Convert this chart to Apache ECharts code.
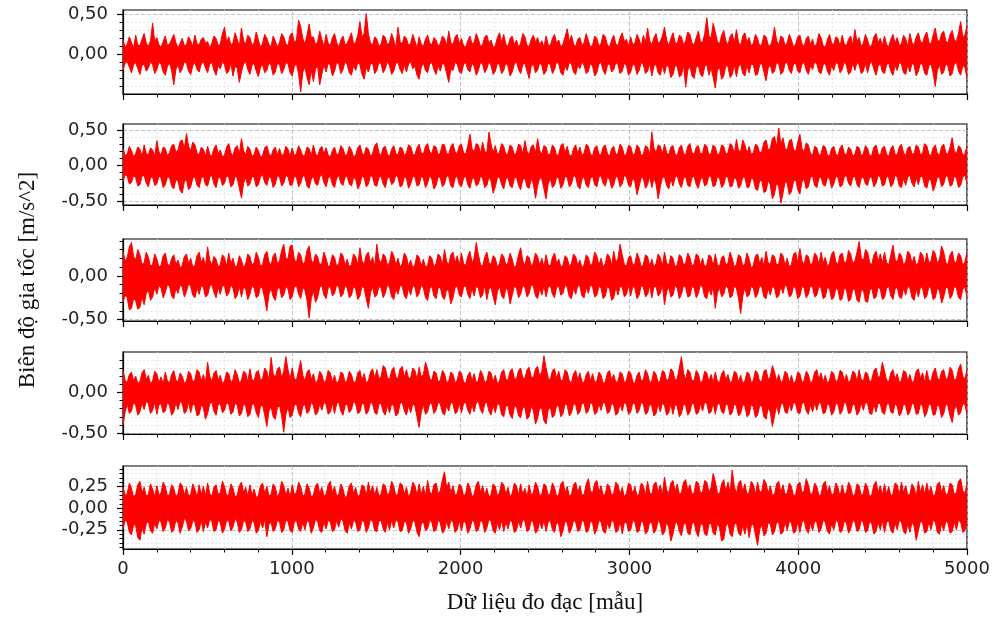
<!DOCTYPE html>
<html>
<head>
<meta charset="utf-8">
<script src="https://cdn.jsdelivr.net/npm/echarts@6.0.0/dist/echarts.min.js"></script>
<style>
  html, body { margin: 0; padding: 0; background: #ffffff; }
  #chart { width: 994px; height: 617px; }
</style>
</head>
<body>
<div id="chart"></div>
<script>
// Five acceleration records, 5000 samples each.
// Each record is kept as its upper (Hi) and lower (Lo) envelope,
// 400 points per edge spread over the 5000 samples, in units of 0.01 m/s^2.
const SAMPLES = 5000;
const UNIT = 0.01;
const xTicks = [0, 1000, 2000, 3000, 4000, 5000];

const s1Hi = [
  18, 9, 13, 22, 15, 8, 24, 12, 11, 19, 26, 14, 10, 17, 39, 16, 21, 12, 9, 16,
  23, 11, 13, 19, 25, 15, 8, 14, 20, 11, 12, 22, 17, 10, 24, 13, 12, 19, 21, 14,
  16, 8, 14, 23, 20, 11, 13, 26, 34, 15, 22, 12, 14, 27, 19, 10, 33, 17, 13, 24,
  21, 11, 15, 28, 18, 9, 14, 25, 20, 12, 10, 23, 17, 9, 15, 26, 22, 13, 11, 24,
  27, 15, 18, 43, 35, 20, 13, 24, 38, 21, 22, 12, 16, 29, 19, 10, 25, 14, 11, 21,
  26, 15, 9, 18, 23, 12, 14, 20, 27, 13, 15, 24, 41, 22, 26, 51, 26, 14, 12, 22,
  19, 10, 13, 24, 21, 12, 15, 26, 18, 9, 34, 16, 13, 23, 20, 11, 14, 25, 17, 8,
  22, 13, 10, 19, 24, 14, 12, 21, 18, 10, 14, 23, 20, 11, 29, 15, 12, 22, 25, 13,
  20, 11, 9, 17, 23, 13, 15, 26, 19, 10, 12, 22, 24, 14, 18, 9, 11, 21, 27, 15,
  25, 13, 10, 20, 23, 12, 18, 9, 14, 26, 22, 11, 10, 19, 24, 15, 21, 12, 17, 9,
  23, 12, 11, 20, 25, 14, 18, 9, 13, 22, 32, 16, 24, 13, 10, 19, 21, 11, 15, 26,
  17, 9, 12, 23, 20, 10, 14, 25, 22, 12, 9, 18, 24, 13, 11, 21, 27, 16, 19, 10,
  22, 12, 14, 25, 19, 10, 24, 15, 33, 17, 12, 21, 26, 14, 16, 23, 34, 18, 11, 20,
  27, 15, 13, 24, 22, 12, 17, 28, 25, 14, 12, 21, 29, 16, 15, 26, 46, 24, 20, 39,
  28, 16, 13, 24, 30, 17, 12, 22, 26, 14, 31, 15, 11, 23, 27, 15, 21, 11, 14, 25,
  20, 10, 13, 24, 22, 12, 10, 19, 34, 17, 12, 23, 21, 11, 15, 25, 18, 9, 13, 22,
  24, 13, 10, 20, 23, 12, 19, 9, 14, 26, 21, 11, 9, 18, 25, 14, 12, 22, 20, 10,
  24, 13, 11, 19, 23, 12, 31, 16, 21, 10, 14, 25, 18, 9, 12, 22, 26, 15, 20, 11,
  23, 12, 10, 19, 25, 14, 21, 11, 13, 24, 20, 10, 26, 15, 12, 22, 27, 16, 14, 23,
  28, 15, 13, 24, 33, 18, 16, 26, 29, 17, 14, 25, 30, 18, 16, 27, 41, 22, 24, 36
];
const s1Lo = [
  -20, -11, -9, -16, -23, -13, -10, -18, -25, -14, -12, -21, -17, -9, -13, -24, -19, -10, -12, -22,
  -26, -15, -11, -20, -38, -19, -13, -23, -18, -9, -11, -21, -25, -14, -10, -19, -22, -12, -9, -17,
  -23, -12, -10, -20, -26, -14, -18, -9, -13, -24, -21, -11, -27, -15, -17, -35, -22, -12, -9, -19,
  -25, -14, -11, -21, -28, -16, -13, -23, -20, -10, -14, -26, -22, -11, -13, -24, -19, -10, -12, -23,
  -27, -15, -12, -24, -47, -22, -16, -29, -38, -20, -34, -18, -15, -38, -25, -13, -22, -11, -14, -27,
  -21, -10, -12, -24, -19, -9, -13, -23, -26, -14, -20, -10, -13, -25, -31, -16, -22, -12, -11, -24,
  -20, -10, -12, -23, -18, -9, -14, -25, -21, -11, -10, -19, -24, -13, -22, -12, -9, -18, -15, -26,
  -31, -16, -11, -20, -23, -12, -10, -19, -25, -14, -21, -11, -13, -24, -35, -18, -20, -10, -12, -22,
  -24, -13, -10, -19, -22, -11, -15, -26, -20, -10, -12, -23, -18, -9, -14, -25, -21, -11, -13, -24,
  -20, -10, -15, -27, -22, -12, -9, -19, -24, -13, -11, -21, -30, -15, -12, -23, -20, -10, -14, -25,
  -21, -11, -13, -24, -19, -9, -12, -23, -26, -14, -20, -10, -12, -22, -25, -13, -18, -9, -14, -24,
  -21, -11, -15, -27, -23, -12, -10, -20, -25, -14, -11, -22, -19, -10, -13, -24, -21, -11, -14, -26,
  -22, -12, -14, -25, -20, -10, -13, -24, -21, -11, -27, -15, -12, -23, -26, -14, -24, -13, -16, -29,
  -25, -14, -15, -28, -26, -13, -41, -20, -15, -27, -30, -16, -14, -25, -28, -15, -13, -26, -17, -29,
  -42, -20, -16, -31, -27, -14, -15, -29, -25, -13, -28, -15, -12, -24, -27, -14, -23, -12, -13, -26,
  -25, -13, -11, -22, -33, -17, -13, -24, -21, -10, -12, -25, -22, -11, -10, -20, -24, -12, -11, -21,
  -23, -12, -10, -20, -25, -14, -19, -9, -12, -22, -24, -13, -11, -21, -26, -14, -20, -10, -12, -23,
  -19, -9, -14, -25, -22, -11, -20, -10, -13, -24, -21, -11, -23, -12, -9, -19, -26, -15, -11, -22,
  -24, -13, -11, -21, -26, -14, -20, -10, -12, -23, -25, -13, -22, -11, -14, -27, -21, -11, -13, -24,
  -26, -14, -12, -23, -40, -20, -13, -25, -22, -11, -15, -27, -24, -12, -10, -21, -26, -14, -16, -30
];

const s2Hi = [
  24, 14, 16, 27, 21, 12, 17, 26, 23, 13, 29, 17, 15, 25, 22, 13, 35, 19, 15, 26,
  24, 14, 18, 28, 30, 19, 22, 34, 36, 24, 45, 27, 21, 33, 29, 18, 15, 26, 23, 13,
  27, 16, 13, 24, 29, 17, 22, 12, 15, 26, 31, 18, 14, 25, 28, 16, 38, 21, 15, 27,
  23, 13, 16, 26, 21, 12, 14, 25, 28, 17, 13, 22, 26, 15, 24, 14, 16, 27, 23, 13,
  25, 14, 17, 28, 22, 13, 15, 26, 24, 14, 29, 17, 13, 23, 27, 16, 25, 15, 12, 21,
  26, 15, 17, 28, 24, 14, 16, 27, 22, 12, 15, 25, 29, 18, 14, 26, 23, 13, 17, 28,
  32, 18, 14, 25, 27, 16, 13, 23, 28, 17, 15, 26, 24, 14, 18, 29, 27, 16, 15, 25,
  30, 18, 16, 27, 31, 19, 17, 28, 26, 15, 18, 30, 29, 17, 16, 27, 31, 19, 17, 28,
  30, 18, 16, 28, 44, 24, 19, 31, 29, 17, 33, 20, 18, 47, 30, 18, 28, 16, 19, 31,
  27, 15, 17, 29, 26, 15, 18, 30, 28, 16, 35, 20, 15, 27, 29, 17, 38, 21, 16, 28,
  26, 15, 17, 29, 25, 14, 16, 28, 31, 18, 27, 15, 13, 24, 29, 17, 26, 14, 18, 30,
  27, 16, 14, 25, 28, 16, 15, 26, 29, 17, 13, 24, 27, 15, 18, 30, 26, 14, 16, 28,
  27, 15, 17, 29, 25, 14, 16, 28, 26, 15, 47, 25, 18, 29, 27, 16, 30, 18, 15, 26,
  28, 16, 14, 25, 29, 17, 15, 27, 31, 18, 16, 26, 28, 16, 18, 30, 27, 15, 17, 29,
  26, 15, 17, 29, 27, 16, 18, 31, 28, 16, 37, 21, 20, 36, 29, 17, 27, 16, 18, 30,
  28, 17, 20, 33, 36, 22, 24, 38, 41, 26, 53, 30, 39, 24, 22, 35, 37, 23, 20, 33,
  44, 24, 19, 32, 29, 17, 15, 27, 25, 14, 17, 28, 26, 15, 13, 24, 27, 16, 14, 25,
  29, 17, 15, 26, 23, 13, 16, 27, 25, 14, 17, 28, 24, 13, 15, 26, 29, 17, 14, 25,
  27, 16, 13, 24, 28, 16, 15, 26, 30, 18, 14, 25, 27, 16, 17, 29, 26, 15, 18, 31,
  28, 16, 14, 25, 29, 17, 15, 27, 30, 18, 16, 26, 39, 21, 16, 28, 25, 14, 17, 27
];
const s2Lo = [
  -22, -13, -15, -26, -24, -14, -17, -29, -27, -15, -14, -25, -30, -17, -16, -28, -26, -15, -18, -31,
  -27, -16, -17, -29, -33, -20, -22, -35, -39, -23, -20, -34, -30, -18, -16, -28, -31, -18, -15, -27,
  -29, -17, -14, -26, -31, -18, -16, -28, -25, -14, -17, -30, -27, -15, -18, -32, -46, -25, -17, -29,
  -26, -15, -17, -30, -27, -16, -13, -24, -28, -16, -18, -31, -26, -14, -16, -29, -25, -14, -16, -28,
  -27, -15, -17, -30, -25, -14, -16, -29, -32, -19, -15, -26, -28, -16, -13, -24, -30, -18, -15, -27,
  -31, -18, -14, -25, -28, -16, -15, -26, -29, -17, -19, -33, -27, -15, -17, -30, -26, -14, -16, -28,
  -29, -17, -15, -26, -31, -18, -16, -27, -24, -13, -17, -30, -28, -16, -18, -32, -26, -15, -16, -29,
  -27, -15, -18, -31, -25, -14, -19, -33, -28, -16, -17, -30, -26, -14, -16, -29, -31, -18, -15, -27,
  -30, -18, -15, -27, -32, -19, -17, -29, -26, -15, -18, -31, -28, -16, -22, -39, -30, -17, -16, -27,
  -33, -19, -17, -29, -31, -18, -16, -28, -34, -20, -18, -30, -32, -19, -26, -46, -29, -17, -19, -33,
  -47, -26, -18, -31, -28, -16, -18, -32, -27, -15, -17, -30, -26, -14, -16, -29, -33, -19, -16, -28,
  -31, -18, -15, -27, -30, -17, -14, -25, -29, -17, -19, -32, -27, -15, -17, -30, -26, -14, -16, -28,
  -30, -17, -23, -41, -29, -17, -18, -32, -27, -15, -31, -18, -26, -47, -30, -17, -16, -28, -33, -19,
  -29, -17, -14, -26, -31, -18, -16, -28, -30, -17, -15, -27, -32, -19, -17, -29, -26, -14, -17, -30,
  -28, -16, -18, -31, -27, -15, -17, -30, -29, -17, -19, -32, -28, -16, -17, -31, -30, -18, -19, -33,
  -35, -21, -22, -38, -36, -21, -27, -47, -40, -24, -30, -53, -39, -23, -25, -41, -37, -22, -20, -34,
  -40, -23, -19, -33, -30, -17, -15, -28, -31, -18, -16, -27, -29, -17, -18, -32, -26, -15, -17, -30,
  -28, -16, -14, -25, -29, -17, -15, -27, -31, -18, -16, -26, -28, -16, -17, -30, -25, -14, -16, -29,
  -27, -15, -17, -30, -26, -14, -16, -29, -31, -18, -28, -16, -14, -25, -30, -17, -27, -15, -16, -29,
  -32, -19, -21, -36, -28, -16, -17, -30, -26, -14, -16, -29, -27, -15, -18, -31, -28, -16, -14, -25
];

const s3Hi = [
  28, 17, 21, 33, 38, 22, 18, 30, 24, 13, 15, 27, 21, 11, 13, 25, 19, 10, 12, 23,
  26, 14, 11, 20, 24, 13, 18, 9, 12, 22, 25, 14, 20, 10, 12, 23, 27, 15, 21, 11,
  33, 18, 12, 22, 19, 10, 13, 24, 21, 11, 26, 14, 20, 10, 12, 23, 18, 9, 14, 25,
  22, 12, 15, 27, 21, 11, 13, 24, 28, 16, 12, 23, 26, 14, 17, 29, 36, 20, 19, 34,
  35, 19, 15, 27, 24, 13, 16, 29, 34, 18, 14, 25, 22, 12, 15, 27, 20, 10, 13, 24,
  21, 11, 14, 26, 23, 12, 19, 10, 13, 25, 22, 12, 32, 17, 13, 24, 27, 15, 21, 11,
  36, 19, 14, 25, 22, 12, 15, 28, 23, 12, 20, 10, 14, 26, 22, 11, 18, 9, 13, 24,
  21, 11, 19, 10, 12, 23, 20, 10, 14, 25, 22, 12, 30, 16, 13, 24, 27, 15, 23, 12,
  26, 14, 12, 22, 28, 15, 20, 38, 24, 13, 11, 21, 27, 15, 13, 23, 20, 10, 14, 25,
  22, 12, 15, 26, 19, 9, 13, 24, 32, 17, 12, 23, 21, 11, 15, 26, 22, 12, 20, 10,
  24, 13, 11, 21, 26, 14, 19, 10, 12, 23, 20, 11, 14, 25, 22, 12, 18, 9, 13, 24,
  21, 11, 15, 27, 23, 12, 20, 10, 14, 25, 22, 12, 28, 15, 20, 36, 24, 13, 11, 21,
  23, 12, 14, 26, 20, 10, 13, 24, 22, 11, 19, 10, 14, 25, 21, 11, 27, 15, 12, 23,
  20, 10, 13, 24, 22, 12, 15, 26, 21, 11, 14, 25, 23, 12, 20, 10, 13, 24, 22, 11,
  25, 13, 11, 21, 23, 12, 15, 27, 20, 10, 13, 24, 22, 11, 14, 26, 19, 9, 12, 23,
  25, 14, 21, 11, 28, 15, 13, 24, 22, 12, 14, 26, 23, 12, 20, 10, 13, 25, 27, 15,
  31, 17, 13, 24, 22, 12, 15, 26, 23, 13, 27, 15, 21, 11, 14, 25, 28, 16, 13, 24,
  26, 15, 16, 29, 25, 14, 17, 27, 39, 21, 17, 30, 27, 15, 13, 24, 28, 16, 25, 14,
  27, 15, 13, 24, 35, 19, 15, 26, 23, 12, 16, 28, 25, 14, 22, 12, 15, 27, 24, 13,
  26, 15, 17, 29, 25, 14, 19, 34, 27, 15, 13, 24, 28, 16, 15, 26, 23, 12, 16, 27
];
const s3Lo = [
  -30, -22, -25, -39, -37, -26, -28, -38, -36, -24, -33, -20, -16, -28, -24, -13, -21, -11, -14, -25,
  -19, -10, -12, -23, -26, -14, -20, -10, -13, -24, -18, -9, -12, -22, -25, -14, -21, -11, -13, -24,
  -22, -12, -10, -19, -25, -13, -21, -11, -12, -23, -20, -10, -14, -26, -22, -12, -24, -13, -15, -27,
  -21, -11, -14, -25, -23, -12, -15, -26, -40, -21, -14, -24, -28, -15, -13, -25, -22, -12, -15, -27,
  -24, -13, -11, -21, -26, -14, -16, -28, -48, -26, -17, -30, -25, -13, -11, -22, -26, -14, -12, -23,
  -20, -10, -13, -24, -21, -11, -14, -25, -22, -12, -15, -27, -23, -12, -14, -26, -37, -19, -13, -24,
  -22, -12, -14, -25, -20, -10, -13, -24, -27, -15, -21, -11, -12, -23, -26, -14, -22, -11, -13, -24,
  -20, -10, -14, -25, -28, -15, -12, -23, -26, -14, -13, -24, -27, -15, -18, -32, -25, -13, -12, -22,
  -24, -13, -11, -21, -26, -14, -23, -12, -14, -25, -22, -11, -27, -15, -13, -24, -33, -18, -12, -23,
  -26, -14, -17, -32, -22, -12, -14, -25, -21, -11, -13, -24, -20, -10, -12, -23, -26, -14, -22, -11,
  -24, -13, -11, -21, -25, -13, -12, -22, -20, -10, -13, -24, -26, -14, -21, -11, -12, -23, -25, -13,
  -20, -10, -13, -24, -22, -12, -14, -26, -23, -12, -15, -28, -25, -13, -22, -12, -13, -24, -21, -11,
  -23, -12, -14, -26, -22, -11, -13, -24, -21, -11, -25, -13, -12, -23, -20, -10, -33, -18, -13, -24,
  -22, -11, -14, -26, -21, -11, -13, -24, -23, -12, -14, -25, -20, -10, -13, -24, -26, -14, -22, -12,
  -37, -20, -13, -24, -21, -11, -14, -25, -23, -12, -14, -26, -43, -23, -13, -24, -22, -12, -14, -25,
  -21, -11, -13, -24, -26, -14, -22, -12, -14, -25, -23, -12, -20, -10, -13, -24, -22, -12, -14, -26,
  -23, -12, -14, -25, -21, -11, -13, -24, -22, -12, -14, -26, -24, -13, -15, -27, -25, -14, -16, -28,
  -26, -14, -16, -29, -27, -15, -16, -28, -30, -17, -16, -29, -30, -17, -14, -26, -24, -13, -15, -27,
  -25, -14, -12, -23, -27, -15, -13, -24, -26, -14, -22, -12, -14, -25, -28, -15, -24, -13, -14, -26,
  -23, -12, -15, -27, -25, -14, -17, -31, -24, -13, -14, -26, -22, -12, -14, -25, -27, -15, -13, -24
];

const s4Hi = [
  27, 15, 12, 22, 25, 14, 20, 11, 13, 24, 28, 16, 21, 11, 14, 26, 23, 12, 19, 10,
  25, 14, 12, 22, 27, 15, 13, 24, 20, 11, 14, 26, 23, 12, 16, 28, 25, 14, 22, 12,
  37, 20, 13, 24, 27, 15, 21, 11, 14, 25, 23, 12, 16, 28, 22, 12, 15, 26, 24, 13,
  29, 16, 14, 25, 27, 15, 17, 30, 26, 15, 43, 23, 18, 29, 31, 18, 26, 44, 28, 16,
  30, 17, 15, 27, 39, 21, 14, 25, 28, 16, 23, 12, 14, 26, 22, 12, 15, 27, 24, 13,
  21, 11, 14, 25, 23, 12, 15, 26, 22, 12, 13, 24, 27, 15, 23, 12, 14, 25, 29, 17,
  28, 17, 19, 33, 30, 18, 16, 27, 31, 19, 17, 29, 32, 19, 28, 17, 18, 30, 27, 16,
  31, 19, 22, 37, 29, 17, 15, 26, 24, 13, 15, 27, 23, 12, 14, 25, 22, 12, 15, 26,
  24, 13, 11, 21, 25, 14, 23, 12, 15, 27, 22, 12, 14, 26, 24, 13, 21, 11, 14, 25,
  28, 16, 15, 26, 29, 17, 16, 27, 30, 18, 17, 28, 31, 19, 18, 29, 32, 20, 26, 45,
  30, 18, 15, 27, 29, 17, 26, 14, 16, 28, 25, 14, 12, 23, 27, 15, 24, 13, 12, 22,
  26, 14, 23, 12, 14, 25, 21, 11, 13, 24, 27, 15, 22, 12, 14, 25, 23, 12, 15, 26,
  24, 13, 11, 21, 25, 14, 16, 28, 23, 12, 14, 26, 22, 12, 15, 27, 25, 14, 17, 29,
  26, 15, 17, 30, 44, 24, 16, 28, 25, 14, 15, 27, 23, 12, 14, 26, 24, 13, 22, 12,
  25, 14, 12, 23, 27, 15, 22, 12, 14, 26, 24, 13, 21, 11, 14, 25, 23, 12, 15, 27,
  24, 13, 14, 26, 28, 16, 19, 33, 25, 14, 22, 12, 15, 26, 23, 12, 21, 11, 14, 25,
  23, 12, 15, 26, 22, 12, 14, 25, 28, 16, 24, 13, 21, 11, 15, 26, 23, 12, 16, 27,
  25, 14, 22, 12, 15, 26, 24, 13, 28, 16, 14, 25, 23, 12, 16, 27, 30, 18, 21, 37,
  26, 15, 13, 24, 28, 16, 23, 12, 15, 27, 25, 14, 22, 12, 15, 26, 29, 17, 24, 13,
  27, 15, 14, 25, 30, 18, 15, 26, 28, 16, 18, 31, 27, 15, 17, 29, 35, 20, 16, 28
];
const s4Lo = [
  -40, -24, -14, -26, -23, -12, -16, -28, -24, -13, -21, -11, -14, -26, -22, -12, -27, -15, -14, -25,
  -23, -12, -16, -28, -24, -13, -21, -11, -14, -26, -23, -12, -25, -14, -16, -29, -27, -15, -19, -33,
  -26, -14, -12, -23, -28, -15, -14, -25, -22, -12, -15, -27, -24, -13, -16, -29, -26, -14, -17, -30,
  -27, -15, -14, -25, -31, -17, -16, -28, -42, -23, -17, -30, -33, -19, -16, -29, -49, -27, -18, -31,
  -28, -16, -14, -25, -30, -17, -15, -26, -23, -12, -16, -28, -25, -14, -22, -12, -15, -27, -24, -13,
  -26, -14, -12, -23, -28, -16, -14, -25, -21, -11, -14, -26, -24, -13, -15, -27, -23, -12, -14, -25,
  -27, -15, -13, -24, -28, -16, -25, -14, -17, -29, -26, -14, -12, -23, -28, -16, -25, -14, -17, -30,
  -43, -24, -15, -27, -24, -13, -14, -26, -22, -12, -14, -25, -28, -16, -23, -12, -14, -26, -24, -13,
  -25, -14, -12, -22, -27, -15, -24, -13, -11, -21, -26, -14, -12, -23, -28, -16, -25, -14, -15, -27,
  -30, -17, -16, -28, -32, -18, -17, -29, -31, -18, -19, -33, -30, -17, -22, -39, -32, -19, -20, -35,
  -39, -22, -18, -31, -28, -16, -17, -30, -26, -14, -16, -29, -25, -14, -15, -27, -24, -13, -14, -26,
  -23, -12, -15, -27, -25, -14, -22, -12, -14, -26, -24, -13, -16, -28, -25, -14, -23, -12, -15, -27,
  -24, -13, -14, -26, -22, -12, -15, -27, -25, -14, -17, -29, -26, -14, -24, -13, -16, -28, -25, -14,
  -27, -15, -17, -30, -26, -14, -16, -28, -24, -13, -15, -27, -25, -14, -23, -12, -14, -26, -24, -13,
  -27, -15, -13, -24, -26, -14, -16, -28, -25, -14, -17, -29, -26, -15, -17, -30, -27, -15, -18, -31,
  -28, -16, -17, -30, -33, -19, -24, -42, -29, -16, -27, -15, -13, -24, -26, -14, -23, -12, -14, -25,
  -26, -14, -12, -23, -27, -15, -24, -13, -22, -12, -14, -26, -25, -14, -16, -28, -24, -13, -15, -27,
  -23, -12, -14, -26, -25, -14, -16, -28, -24, -13, -22, -12, -14, -26, -27, -15, -24, -13, -14, -25,
  -27, -15, -13, -24, -26, -14, -17, -29, -25, -14, -16, -28, -24, -13, -15, -27, -26, -14, -17, -30,
  -25, -14, -16, -28, -27, -15, -18, -31, -26, -14, -17, -29, -37, -21, -16, -28, -25, -14, -15, -27
];

const s5Hi = [
  25, 15, 17, 29, 23, 13, 16, 27, 31, 18, 24, 14, 16, 28, 22, 13, 26, 15, 18, 30,
  25, 14, 16, 27, 23, 13, 17, 29, 26, 15, 24, 14, 16, 28, 22, 12, 27, 16, 25, 14,
  29, 17, 14, 24, 27, 16, 18, 31, 25, 14, 16, 28, 23, 13, 15, 26, 30, 18, 24, 14,
  27, 15, 22, 12, 15, 26, 29, 17, 25, 14, 16, 28, 24, 13, 18, 31, 26, 15, 23, 13,
  27, 16, 18, 30, 25, 14, 16, 28, 23, 13, 15, 26, 29, 17, 24, 14, 16, 27, 31, 18,
  25, 14, 16, 28, 22, 12, 15, 26, 29, 17, 24, 13, 16, 27, 25, 14, 30, 18, 26, 15,
  24, 14, 16, 28, 26, 15, 18, 31, 25, 14, 17, 29, 27, 16, 24, 13, 18, 30, 26, 15,
  28, 16, 25, 14, 32, 19, 16, 27, 29, 17, 20, 33, 42, 24, 30, 18, 26, 15, 17, 28,
  25, 14, 17, 29, 24, 13, 16, 27, 31, 18, 26, 15, 23, 13, 16, 28, 25, 14, 18, 30,
  27, 16, 24, 13, 17, 29, 26, 15, 28, 16, 23, 13, 27, 15, 18, 30, 25, 14, 16, 28,
  26, 15, 17, 29, 24, 13, 16, 28, 31, 18, 25, 14, 16, 27, 30, 18, 26, 15, 16, 28,
  34, 20, 17, 29, 32, 19, 26, 15, 16, 28, 25, 14, 18, 30, 27, 16, 24, 13, 17, 29,
  27, 16, 25, 14, 17, 29, 26, 15, 31, 18, 16, 28, 30, 18, 27, 16, 36, 21, 17, 29,
  32, 19, 28, 16, 18, 30, 33, 20, 27, 16, 18, 31, 29, 17, 19, 32, 30, 18, 24, 40,
  31, 18, 16, 28, 33, 19, 30, 18, 44, 25, 17, 29, 32, 19, 28, 16, 18, 31, 27, 16,
  30, 18, 20, 33, 29, 17, 26, 15, 16, 28, 31, 18, 27, 16, 17, 29, 25, 14, 16, 28,
  30, 18, 20, 34, 27, 16, 17, 29, 25, 14, 16, 28, 31, 18, 26, 15, 17, 29, 24, 13,
  27, 16, 18, 30, 25, 14, 16, 28, 26, 15, 17, 29, 24, 13, 16, 27, 31, 18, 26, 15,
  28, 16, 25, 14, 17, 29, 27, 15, 30, 18, 26, 15, 16, 28, 24, 13, 31, 18, 27, 16,
  29, 17, 25, 14, 16, 28, 30, 18, 26, 15, 17, 29, 27, 16, 18, 31, 34, 20, 17, 28
];
const s5Lo = [
  -24, -14, -16, -28, -31, -19, -20, -34, -37, -22, -30, -18, -15, -26, -29, -17, -24, -14, -16, -27,
  -23, -13, -16, -28, -25, -14, -17, -29, -22, -12, -15, -26, -24, -14, -16, -28, -25, -14, -27, -16,
  -23, -13, -15, -27, -25, -14, -17, -29, -24, -14, -15, -26, -22, -12, -16, -28, -25, -14, -16, -27,
  -24, -14, -17, -29, -26, -15, -23, -13, -33, -19, -16, -27, -24, -14, -16, -28, -25, -14, -15, -26,
  -28, -16, -14, -24, -27, -16, -25, -14, -17, -29, -23, -13, -15, -26, -28, -16, -24, -14, -16, -27,
  -25, -14, -22, -12, -15, -26, -29, -17, -24, -14, -16, -27, -25, -14, -16, -28, -23, -13, -15, -26,
  -27, -15, -14, -24, -28, -16, -25, -14, -23, -13, -16, -27, -26, -15, -17, -29, -24, -14, -16, -28,
  -33, -19, -15, -26, -24, -14, -16, -27, -25, -14, -17, -29, -26, -15, -24, -14, -16, -28, -25, -14,
  -26, -15, -17, -29, -24, -14, -16, -27, -25, -14, -16, -28, -23, -13, -15, -26, -29, -17, -25, -14,
  -27, -16, -24, -14, -16, -28, -26, -15, -23, -13, -15, -27, -25, -14, -17, -29, -26, -15, -24, -14,
  -27, -16, -14, -25, -28, -16, -19, -33, -26, -15, -17, -29, -24, -14, -16, -27, -25, -14, -16, -28,
  -26, -15, -17, -30, -25, -14, -16, -27, -29, -17, -24, -14, -16, -28, -26, -15, -30, -17, -16, -27,
  -25, -14, -16, -28, -26, -15, -17, -30, -27, -16, -17, -29, -25, -14, -18, -31, -28, -16, -22, -38,
  -30, -18, -16, -27, -32, -19, -17, -29, -31, -18, -16, -28, -33, -19, -18, -30, -32, -19, -17, -29,
  -31, -18, -22, -38, -36, -21, -17, -30, -33, -19, -17, -29, -32, -19, -30, -18, -34, -20, -18, -31,
  -43, -25, -19, -32, -29, -17, -18, -31, -27, -16, -17, -30, -28, -16, -26, -15, -17, -29, -27, -16,
  -28, -16, -14, -25, -29, -17, -26, -15, -16, -28, -24, -14, -16, -27, -30, -18, -25, -14, -16, -28,
  -26, -15, -17, -29, -24, -14, -16, -27, -25, -14, -17, -28, -26, -15, -18, -30, -27, -16, -25, -14,
  -28, -16, -15, -26, -29, -17, -25, -14, -16, -27, -30, -18, -28, -16, -21, -37, -26, -15, -17, -29,
  -27, -16, -25, -14, -16, -28, -30, -18, -26, -15, -17, -29, -27, -16, -25, -14, -16, -28, -26, -15
];

// Tick values shown on each panel's y axis
const yTicks1 = [0, 0.5];
const yTicks2 = [-0.5, 0, 0.5];
const yTicks3 = [-0.5, 0];
const yTicks4 = [-0.5, 0];
const yTicks5 = [-0.25, 0, 0.25];

const xTitle = 'Dữ liệu đo đạc [mẫu]';
const yTitle = 'Biên độ gia tốc [m/s^2]';

// One envelope edge, its points spread evenly over the sample range
function edge(values) {
  const last = values.length - 1;
  return values.map((v, i) => [i * SAMPLES / last, v * UNIT]);
}

const panels = [
  { hi: s1Hi, lo: s1Lo, ticks: yTicks1, step: 0.5,  min: -0.495, max: 0.555, top: 10,  height: 84 },
  { hi: s2Hi, lo: s2Lo, ticks: yTicks2, step: 0.5,  min: -0.556, max: 0.585, top: 124, height: 81 },
  { hi: s3Hi, lo: s3Lo, ticks: yTicks3, step: 0.5,  min: -0.515, max: 0.42,  top: 239, height: 82 },
  { hi: s4Hi, lo: s4Lo, ticks: yTicks4, step: 0.5,  min: -0.512, max: 0.497, top: 352, height: 82 },
  { hi: s5Hi, lo: s5Lo, ticks: yTicks5, step: 0.25, min: -0.472, max: 0.487, top: 466, height: 83 }
];

const LAST = panels.length - 1;
const RED = '#ff0000';
const tickFont = { fontFamily: 'DejaVu Sans', fontSize: 18, color: '#222222' };
const majorGrid = { show: true, lineStyle: { color: '#b4b4b4', width: 0.8, type: [4, 2] } };
const minorGrid = { show: true, lineStyle: { color: '#e2e2e2', width: 0.8, type: [2, 2] } };
const spine = { show: true, onZero: false, lineStyle: { color: '#000000', width: 1.2 } };

// The upper edge is filled down past zero and the lower edge up past zero,
// so the two fills overlap in the middle and the band is solid red.
function signalSeries(p, i) {
  const base = {
    type: 'line', xAxisIndex: i, yAxisIndex: i,
    symbol: 'none', showSymbol: false, silent: true, clip: true,
    lineStyle: { color: RED, width: 1 },
    itemStyle: { color: RED }
  };
  return [
    Object.assign({ data: edge(p.hi), areaStyle: { color: RED, opacity: 1, origin: -0.04 } }, base),
    Object.assign({ data: edge(p.lo), areaStyle: { color: RED, opacity: 1, origin: 0.04 } }, base)
  ];
}

const option = {
  animation: false,
  backgroundColor: '#ffffff',
  grid: panels.map(p => ({
    left: 123, right: 27, top: p.top, height: p.height,
    show: true, borderColor: '#000000', borderWidth: 1.2, backgroundColor: 'transparent'
  })),
  xAxis: panels.map((p, i) => ({
    type: 'value', gridIndex: i, min: 0, max: SAMPLES, interval: 1000,
    axisLine: spine,
    axisTick: { show: true, length: 6, lineStyle: { color: '#000000', width: 1.2 } },
    minorTick: { show: true, splitNumber: 5, length: 3.5, lineStyle: { color: '#000000', width: 1 } },
    axisLabel: Object.assign({ show: i === LAST, margin: 11, customValues: xTicks, formatter: v => String(v) }, tickFont),
    splitLine: majorGrid,
    minorSplitLine: minorGrid,
    name: i === LAST ? xTitle : '',
    nameLocation: 'middle', nameGap: 42,
    nameTextStyle: { fontFamily: 'Liberation Serif', fontSize: 23, color: '#111111' }
  })),
  yAxis: panels.map((p, i) => ({
    type: 'value', gridIndex: i, min: p.min, max: p.max,
    minInterval: p.step, maxInterval: p.step, splitNumber: 2,
    axisLine: spine,
    axisTick: { show: true, length: 6, customValues: p.ticks, lineStyle: { color: '#000000', width: 1.2 } },
    minorTick: { show: true, splitNumber: 5, length: 3.5, lineStyle: { color: '#000000', width: 1 } },
    axisLabel: Object.assign({
      margin: 15, customValues: p.ticks,
      formatter: v => v.toFixed(2).replace('.', ',')
    }, tickFont),
    splitLine: majorGrid,
    minorSplitLine: minorGrid,
    name: i === 2 ? yTitle : '',
    nameLocation: 'middle', nameGap: 84, nameRotate: 90,
    nameTextStyle: { fontFamily: 'Liberation Serif', fontSize: 23, color: '#111111' }
  })),
  series: panels.flatMap(signalSeries)
};

const chart = echarts.init(document.getElementById('chart'), null, { renderer: 'canvas' });
chart.setOption(option);
</script>
</body>
</html>
